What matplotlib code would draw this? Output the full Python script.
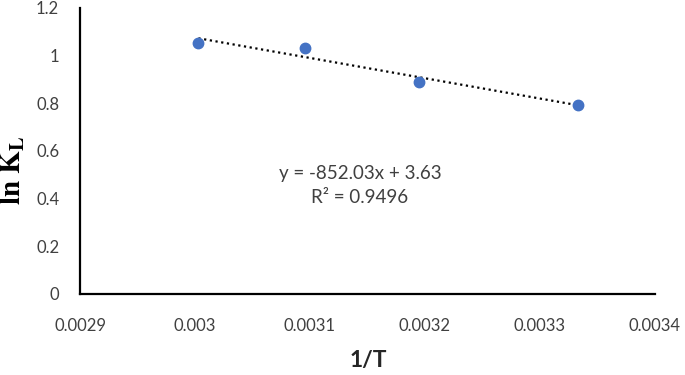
import matplotlib
matplotlib.use("Agg")
import matplotlib.pyplot as plt
import numpy as np

plt.rcParams["mathtext.fontset"] = "stix"

# data
inv_T = [0.003003, 0.003096, 0.003195, 0.003333]
ln_KL = [1.054, 1.031, 0.889, 0.793]
x_ticks = [0.0029, 0.003, 0.0031, 0.0032, 0.0033, 0.0034]
x_tick_labels = ["0.0029", "0.003", "0.0031", "0.0032", "0.0033", "0.0034"]
y_ticks = [0, 0.2, 0.4, 0.6, 0.8, 1.0, 1.2]
y_tick_labels = ["0", "0.2", "0.4", "0.6", "0.8", "1", "1.2"]
eq_text = "y = -852.03x + 3.63\nR\u00b2 = 0.9496"

fig = plt.figure(figsize=(6.85, 3.75), dpi=100)
ax = fig.add_axes([0.1168, 0.216, 0.839, 0.763])

slope, intercept = np.polyfit(inv_T, ln_KL, 1)
xs = np.array([inv_T[0], inv_T[-1]])
ax.plot(xs, slope * xs + intercept, color="black", linestyle=(0, (1, 1.6)), lw=1.6, zorder=2)
ax.plot(inv_T, ln_KL, "o", color="#4472C4", markersize=7.5, zorder=3)

ax.set_xlim(0.0029, 0.0034)
ax.set_ylim(0, 1.2)
ax.set_xticks(x_ticks)
ax.set_xticklabels(x_tick_labels)
ax.set_yticks(y_ticks)
ax.set_yticklabels(y_tick_labels)
ax.tick_params(axis="both", length=0, labelsize=12, colors="#404040")
ax.tick_params(axis="x", pad=17)
ax.tick_params(axis="y", pad=15)
for lab in ax.get_xticklabels() + ax.get_yticklabels():
    lab.set_family("Lato")

for s in ["top", "right"]:
    ax.spines[s].set_visible(False)
for s in ["left", "bottom"]:
    ax.spines[s].set_linewidth(1.6)
    ax.spines[s].set_color("black")

fig.text(368 / 685, 1 - 361 / 375, "1/T", fontsize=16.5, fontweight="bold",
         family="Lato", color="#262626", ha="center", va="center")
fig.text(13 / 685, 1 - 170 / 375, r"$\mathbf{ln\ K_L}$", fontsize=21,
         rotation=90, ha="center", va="center")

ax.text(0.487, 0.379, eq_text, transform=ax.transAxes, ha="center", va="center",
        fontsize=13.5, family="Lato", color="#404040", linespacing=1.5)

fig.savefig("out.png", dpi=100)
